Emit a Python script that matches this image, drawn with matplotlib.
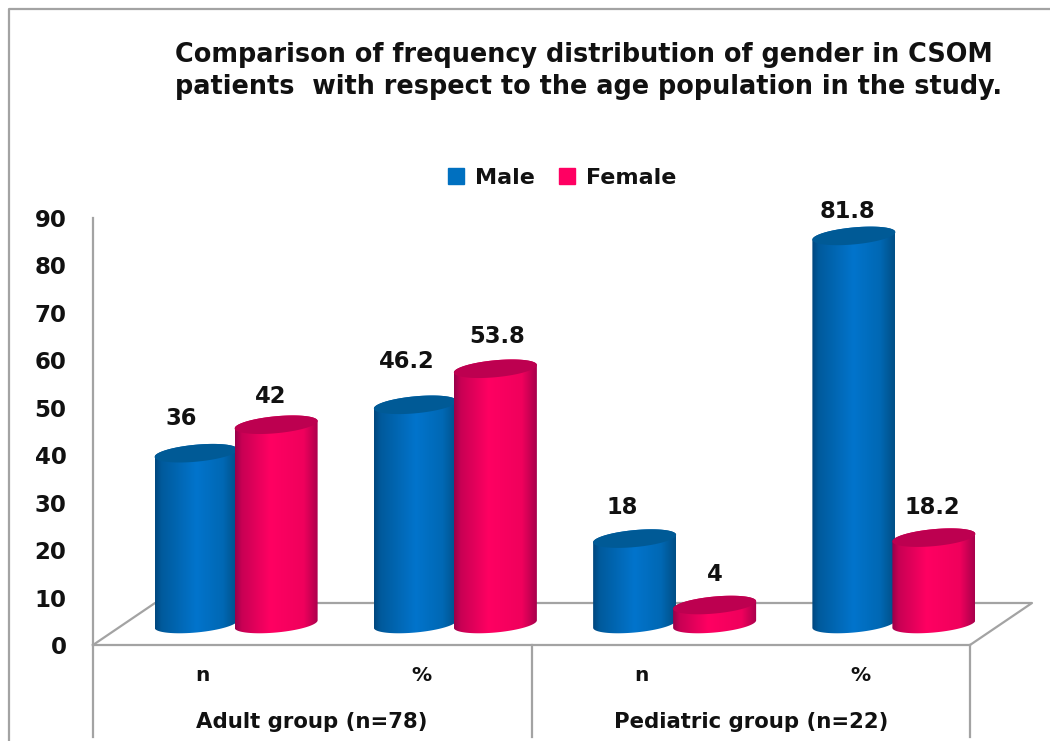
import numpy as np
import matplotlib
matplotlib.use('Agg')
from matplotlib import pyplot as plt
from matplotlib.colors import LinearSegmentedColormap
from matplotlib.lines import Line2D
from matplotlib.patches import Patch, PathPatch
from matplotlib.path import Path

categories = ['n', '%', 'n', '%']
groups = ['Adult group (n=78)', 'Pediatric group (n=22)']
male = [36, 46.2, 18, 81.8]
female = [42, 53.8, 4, 18.2]
value_ticks = [0, 10, 20, 30, 40, 50, 60, 70, 80, 90]
title = ('Comparison of frequency distribution of gender in CSOM\n'
         'patients  with respect to the age population in the study.')

W, H = 1050, 741
GREY = '#a3a3a3'
plt.rcParams['font.family'] = 'DejaVu Sans'
plt.rcParams['font.weight'] = 'bold'

# axes box in pixels, measured from the top left corner
LEFT, RIGHT, BASE, TOP = 93, 970, 645, 218
UNIT_X = (RIGHT - LEFT) / 4
UNIT_Y = (BASE - TOP) / 90
DEPTH_X, DEPTH_Y = 62, 42

# cylinder shape in pixels
RADIUS = 41.5
SPACING = 40
SHIFT = 2.5
CAP_B = 8.5
TILT = 0.09

blue_map = LinearSegmentedColormap.from_list(
    'blue', [(0, '#00477e'), (0.08, '#005a9c'), (0.5, '#0274cc'), (0.82, '#0068b4'), (1, '#004f86')])
pink_map = LinearSegmentedColormap.from_list(
    'pink', [(0, '#98004a'), (0.08, '#c80054'), (0.42, '#ff0062'), (0.82, '#f0005c'), (1, '#a8004c')])

fig = plt.figure(figsize=(W / 100, H / 100), dpi=100, facecolor='white')
ax = fig.add_axes([LEFT / W, 1 - BASE / H, (RIGHT - LEFT) / W, (BASE - TOP) / H])
ax.set_facecolor('none')


def ellipse(cx, cy, t):
    xs = cx + RADIUS * np.cos(t) / UNIT_X
    ys = cy + (TILT * RADIUS * np.cos(t) + CAP_B * np.sin(t)) / UNIT_Y
    return np.column_stack([xs, ys])


def cylinder(cx, value, cmap, cap_color, order):
    # cx is the floor position, the bars stand half way into the depth
    cx = cx + (DEPTH_X / 2 + SHIFT) / UNIT_X
    base = DEPTH_Y / 2 / UNIT_Y
    top = base + value
    upper = ellipse(cx, top, np.linspace(np.pi, 0, 60))
    lower = ellipse(cx, base, np.linspace(0, -np.pi, 60))
    body = np.vstack([upper, lower, upper[:1]])
    half = RADIUS / UNIT_X
    im = ax.imshow(np.linspace(0, 1, 256)[None, :], cmap=cmap, aspect='auto',
                   extent=[cx - half, cx + half, base - 5, top + 5], zorder=order)
    im.set_clip_box(fig.bbox)
    im.set_clip_path(PathPatch(Path(body), transform=ax.transData))
    cap = ellipse(cx, top, np.linspace(0, 2 * np.pi, 120))
    ax.fill(cap[:, 0], cap[:, 1], color=cap_color, lw=0, zorder=order + 0.5, clip_on=False)
    return top


# floor of the 3d box
dx, dy = DEPTH_X / UNIT_X, DEPTH_Y / UNIT_Y
ax.plot([0, dx, 4 + dx, 4], [0, dy, dy, 0], color=GREY, lw=1.6, clip_on=False, zorder=1)

# separators under the axis between the two groups
for sep in [0, 2, 4]:
    ax.plot([sep, sep], [0, -92 / UNIT_Y], color=GREY, lw=1.6, clip_on=False, zorder=1)

label_offsets = [(-15, 35), (-5, 28), (-9, 43), (1.5, 32), (-12, 31), (0, 31), (-6, 24), (-2, 30)]
centers = np.arange(4) + 0.5
half_step = SPACING / UNIT_X
tops = []
for i in range(4):
    tops.append((centers[i] - half_step, male[i],
                 cylinder(centers[i] - half_step, male[i], blue_map, '#005a96', 3 + i * 2)))
    tops.append((centers[i] + half_step, female[i],
                 cylinder(centers[i] + half_step, female[i], pink_map, '#bd0050', 4 + i * 2)))

for (x, value, top), (ox, oy) in zip(tops, label_offsets):
    ax.annotate(f'{value:g}', (x + (DEPTH_X / 2 + SHIFT) / UNIT_X, top), xytext=(ox, oy),
                textcoords='offset pixels', ha='center', va='center',
                fontsize=16.3, color='#111111', zorder=20)

ax.set_xlim(0, 4)
ax.set_ylim(0, 90)
ax.set_yticks(value_ticks)
ax.set_xticks(centers)
ax.set_xticklabels(categories)
ax.tick_params(axis='y', length=0, pad=19, labelsize=16.5, labelcolor='#111111')
ax.tick_params(axis='x', length=0, pad=15, labelsize=14.5, labelcolor='#111111')
for side in ['top', 'right']:
    ax.spines[side].set_visible(False)
for side in ['left', 'bottom']:
    ax.spines[side].set_color(GREY)
    ax.spines[side].set_linewidth(1.6)

for i, group in enumerate(groups):
    ax.text(1 + 2 * i, -77 / UNIT_Y, group, ha='center', va='center', fontsize=15.3,
            color='#111111', clip_on=False)

handles = [Patch(color='#0070c0', label='Male'), Patch(color='#ff0062', label='Female')]
fig.legend(handles=handles, loc='center', bbox_to_anchor=(562 / W, 1 - 178 / H), ncol=2,
           frameon=False, fontsize=16, handlelength=0.7, handleheight=0.7,
           handletextpad=0.5, columnspacing=1.1, labelcolor='#111111')

fig.text(175 / W, 1 - 71.5 / H, title, ha='left', va='center', fontsize=18.4,
         color='#111111', linespacing=1.3)

# outer frame of the chart, open on the right and at the bottom
fig.add_artist(Line2D([9 / W, 9 / W, 1], [0, 1 - 9 / H, 1 - 9 / H], color=GREY, lw=1.6))

fig.savefig('out.png', dpi=100)
